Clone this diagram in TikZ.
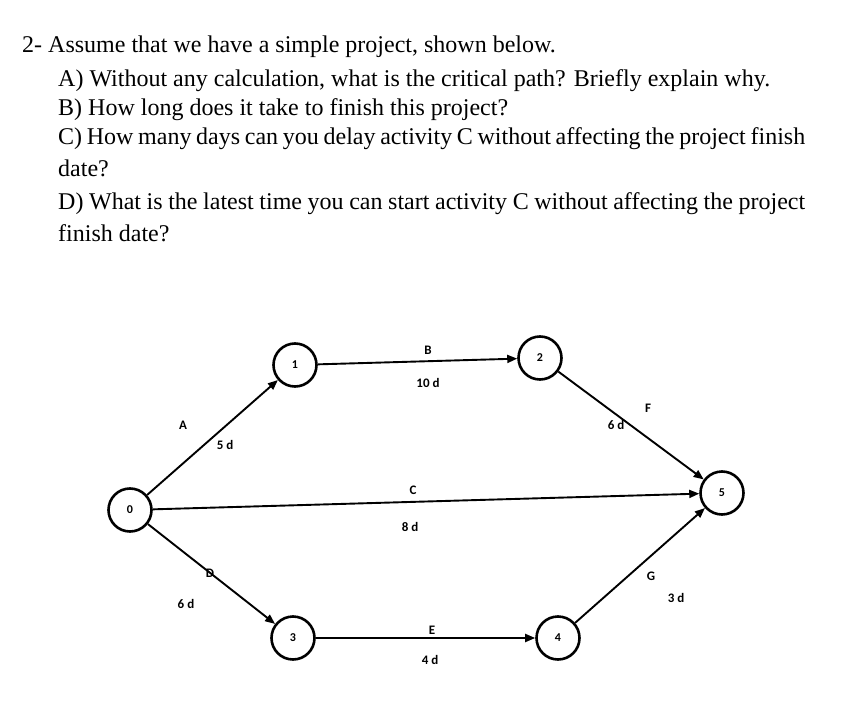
\documentclass[tikz,border=0pt]{standalone}
\usepackage{fontspec}
\setmainfont{Liberation Serif}
\newfontfamily\carlitofont{Carlito}
\usetikzlibrary{arrows.meta}
\begin{document}
\begin{tikzpicture}[x=1pt,y=-1pt,
  q/.style={anchor=base west,inner sep=0,font=\fontsize{24}{32}\selectfont},
  ev/.style={circle,draw,line width=2.6pt,minimum size=43pt,inner sep=0,font=\carlitofont\bfseries\fontsize{12}{13}\selectfont},
  lb/.style={font=\carlitofont\bfseries\fontsize{13}{14}\selectfont,inner sep=0},
  act/.style={line width=1.9pt,-{Triangle[length=10pt,width=8pt]}}]
\useasboundingbox (0,0) rectangle (868,717);
\node[q] (t1) at (22,53) {2- Assume that we have a simple project, shown below.};
\node[q] (t2) at (58,86) {A) Without any calculation, what is the critical path? Briefly explain why.};
\node[q] (t3) at (58,116) {B) How long does it take to finish this project?};
\node[q,text width=747pt,align=justify,anchor=north west] (t4) at (58,127) {C) How many days can you delay activity C without affecting the project finish date?};
\node[q,text width=747pt,align=justify,anchor=north west] (t5) at (58,192) {D) What is the latest time you can start activity C without affecting the project finish date?};
\node[ev] (n0) at (130,510) {0};
\node[ev] (n1) at (295,365) {1};
\node[ev] (n2) at (540,358) {2};
\node[ev] (n3) at (293,638) {3};
\node[ev] (n4) at (558,638) {4};
\node[ev] (n5) at (722,493) {5};
\draw[act] (n0) -- (n1);
\draw[act] (n1) -- (n2);
\draw[act] (n2) -- (n5);
\draw[act] (n0) -- (n5);
\draw[act] (n0) -- (n3);
\draw[act] (n3) -- (n4);
\draw[act] (n4) -- (n5);
\node[lb] (la) at (183,425) {A};
\node[lb] (la2) at (225,445) {5 d};
\node[lb] (lb1) at (428,350) {B};
\node[lb] (lb2) at (428,383) {10 d};
\node[lb] (lf) at (648,408) {F};
\node[lb] (lf2) at (616,425) {6 d};
\node[lb] (lc) at (413,490) {C};
\node[lb] (lc2) at (410,527) {8 d};
\node[lb] (ld) at (210,573) {D};
\node[lb] (ld2) at (186,604) {6 d};
\node[lb] (le) at (432,630) {E};
\node[lb] (le2) at (430,660) {4 d};
\node[lb] (lg) at (651,576) {G};
\node[lb] (lg2) at (676,598) {3 d};
\end{tikzpicture}
\end{document}
